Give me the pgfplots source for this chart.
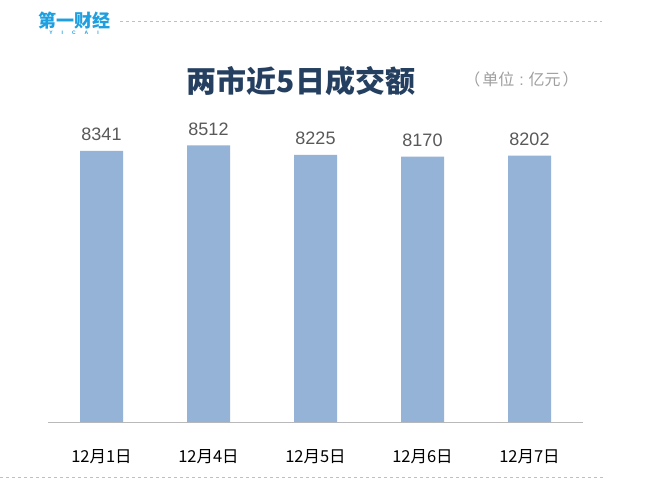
\documentclass[border=0pt]{standalone}
\usepackage{pgfplots}
\pgfplotsset{compat=1.18}
\usepackage{fontspec}
\setmainfont{Liberation Sans}
\newfontfamily\cjk{Noto Sans CJK SC}
\definecolor{barc}{HTML}{95B3D7}
\definecolor{titc}{HTML}{243F60}
\definecolor{logoc}{HTML}{1E9FE0}
\definecolor{valc}{HTML}{595959}
\definecolor{dashc}{HTML}{C0C0C0}
\begin{document}
\begin{tikzpicture}[x=1pt,y=1pt]
\path[use as bounding box,fill=white] (0,0) rectangle (651,501);
% dashed rules
\draw[dashc,line width=0.8pt,dash pattern=on 3pt off 3pt] (120,480) -- (602,480);
\draw[dashc,line width=0.8pt,dash pattern=on 3pt off 3pt] (0,24) -- (603,24);
% logo
\node[logoc,font=\cjk\bfseries\fontsize{18}{18}\selectfont,inner sep=0] at (74,480.5) {第一财经};
\node[logoc,font=\bfseries\fontsize{5}{5}\selectfont,inner sep=0] at (74,468) {Y\hspace{9pt}I\hspace{9pt}C\hspace{9pt}A\hspace{9pt}I};
% title
\node[titc,font=\cjk\bfseries\fontsize{30}{30}\selectfont,inner sep=0] at (301,419.5) {两市近5日成交额};
\node[gray!75,font=\cjk\fontsize{16}{16}\selectfont,inner sep=0] at (521.5,422) {（\hspace{2pt}单位\hspace{5pt}{\rmfamily:}\hspace{5pt}亿元\hspace{2pt}）};
\begin{axis}[
  at={(48pt,79pt)}, anchor=south west,
  scale only axis, width=535pt, height=324.9pt,
  xmin=-0.5, xmax=4.5, ymin=0, ymax=10000,
  axis x line*=bottom, axis y line=none,
  x axis line style={draw=gray!55,line width=1pt,-},
  ytick=\empty,
  xtick={0,1,2,3,4},
  xticklabels={12月1日,12月4日,12月5日,12月6日,12月7日},
  major tick length=0pt,
  xticklabel style={font=\cjk\fontsize{16.5}{16.5}\selectfont,anchor=base,yshift=-40pt,text=black},
  ybar, bar width=43pt,
  nodes near coords,
  nodes near coords style={font=\fontsize{18}{18}\selectfont,text=valc,anchor=base,yshift=10pt,inner sep=0pt,/pgf/number format/.cd,fixed,1000 sep={},assume math mode=true},
  clip=false,
]
\addplot[fill=barc,draw=none] coordinates {(0,8341) (1,8512) (2,8225) (3,8170) (4,8202)};
\end{axis}
\end{tikzpicture}
\end{document}
